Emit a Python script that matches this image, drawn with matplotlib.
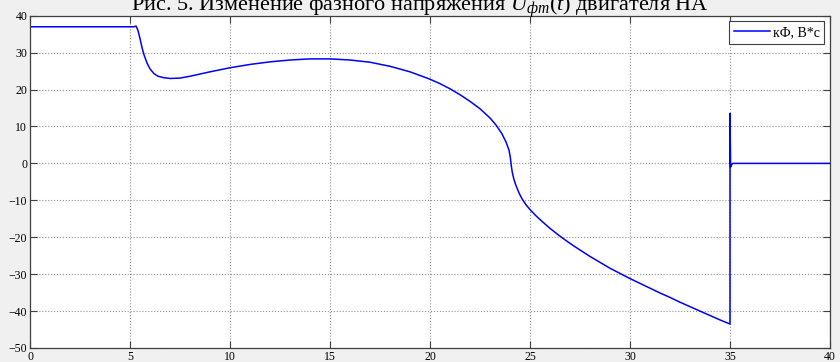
import matplotlib
matplotlib.use("Agg")
import matplotlib.pyplot as plt

# кФ(t) curve
t = [0.0, 0.0, 5.2, 5.3, 5.4, 5.5, 5.6, 5.7, 5.85, 6.0, 6.2, 6.4, 6.7, 7.0,
     7.5, 8.0, 8.5, 9.0, 10.0, 11.0, 12.0, 13.0, 14.0, 15.0, 16.0, 17.0,
     18.0, 19.0, 20.0, 20.5, 21.0, 21.5, 22.0, 22.5, 23.0, 23.3, 23.6, 23.8,
     23.95, 24.02, 24.06, 24.12, 24.2, 24.3, 24.45, 24.6, 24.8, 25.0, 25.3,
     25.6, 26.0, 26.4, 26.8, 27.2, 27.6, 28.0, 28.5, 29.0, 29.5, 30.0, 30.5,
     31.0, 31.5, 32.0, 32.5, 33.0, 33.5, 34.0, 34.5, 35.0, 35.0, 35.03,
     35.08, 35.15, 40.0]
kf = [0.0, 37.0, 37.0, 37.2, 36.0, 33.8, 31.4, 29.4, 27.2, 25.6, 24.3, 23.6,
      23.2, 23.0, 23.1, 23.6, 24.2, 24.8, 25.9, 26.8, 27.5, 28.0, 28.3, 28.3,
      28.0, 27.4, 26.3, 24.8, 22.8, 21.6, 20.2, 18.6, 16.8, 14.8, 12.3, 10.4,
      8.0, 5.8, 3.6, 1.5, -0.5, -2.6, -4.4, -6.0, -8.0, -9.6, -11.2, -12.5,
      -14.2, -15.7, -17.6, -19.3, -20.9, -22.4, -23.8, -25.2, -26.8, -28.4,
      -29.8, -31.2, -32.5, -33.8, -35.1, -36.3, -37.6, -38.8, -40.0, -41.2,
      -42.4, -43.5, 13.5, -1.0, -0.3, 0.0, 0.0]

x_ticks = [0, 5, 10, 15, 20, 25, 30, 35, 40]
y_ticks = [-50, -40, -30, -20, -10, 0, 10, 20, 30, 40]

plt.rcParams['mathtext.fontset'] = 'custom'
plt.rcParams['mathtext.rm'] = 'Liberation Serif'
plt.rcParams['mathtext.it'] = 'Liberation Serif:italic'

fig = plt.figure(figsize=(8.4, 3.62), dpi=100, facecolor='#f0f0f0')
ax = fig.add_axes([30 / 840, 1 - 348 / 362, 800 / 840, (348 - 15.7) / 362])

ax.plot(t, kf, color='#0000ff', lw=1.1, label='кФ, В*с')

ax.set_xlim(0, 40)
ax.set_ylim(-50, 40)
ax.set_xticks(x_ticks)
ax.set_yticks(y_ticks)
ax.tick_params(direction='in', length=5, width=0.8, color='#404040',
               top=True, right=True, labelsize=8.5, pad=2)
for lab in ax.get_xticklabels() + ax.get_yticklabels():
    lab.set_family('Liberation Serif')
for sp in ax.spines.values():
    sp.set_color('#404040')
    sp.set_linewidth(0.9)
ax.grid(True, ls=':', color='#909090', lw=0.8)

leg = ax.legend(loc='upper right', prop={'family': 'Liberation Serif', 'size': 10},
                handlelength=2.6, borderaxespad=0.4, fancybox=False,
                framealpha=1, borderpad=0.35, handletextpad=0.2)
leg.get_frame().set_edgecolor('#404040')
leg.get_frame().set_linewidth(0.8)

# подпись рисунка сверху, срезана краем листа
fig.text(0.5, 1 - 11 / 362, r'Рис. 5. Изменение фазного напряжения $U_{фm}(t)$ двигателя НА',
         ha='center', va='baseline', fontsize=16, family='Liberation Serif')

fig.savefig('out.png', dpi=100, facecolor=fig.get_facecolor())
